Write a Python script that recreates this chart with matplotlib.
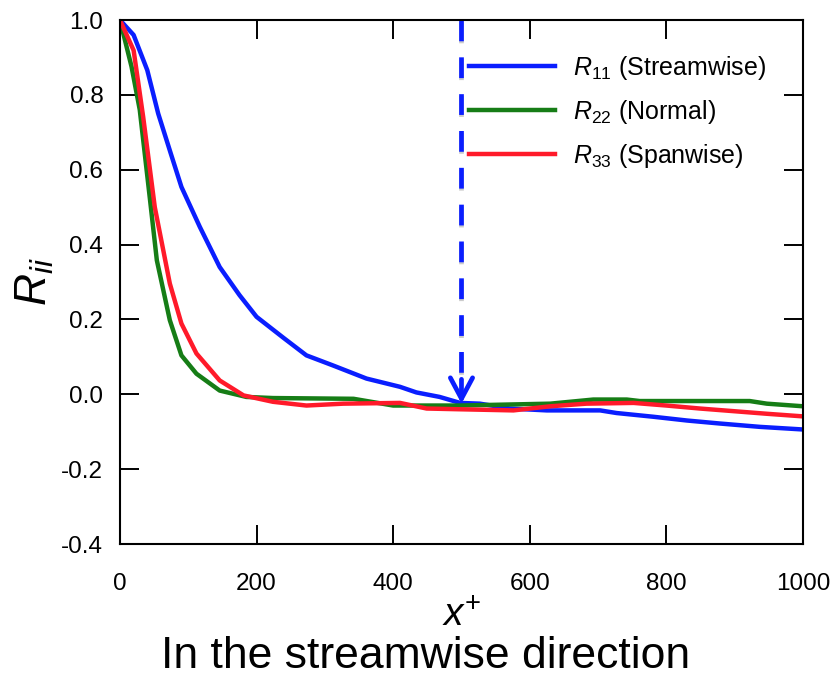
import matplotlib
matplotlib.use("Agg")
import matplotlib.pyplot as plt
import matplotlib.patheffects as pe

plt.rcParams['font.family'] = ['Liberation Sans', 'DejaVu Sans']
plt.rcParams['mathtext.fontset'] = 'custom'
plt.rcParams['mathtext.rm'] = 'Liberation Sans'
plt.rcParams['mathtext.it'] = 'Liberation Sans:italic'

# ---- data ----
x_r11 = [0, 20, 40, 56, 75, 90, 117, 146, 175, 200, 240, 273, 312, 361, 410, 434, 468,
         498, 527, 571, 625, 703, 727, 781, 830, 878, 937, 1000]
y_r11 = [1.0, 0.96, 0.866, 0.75, 0.64, 0.554, 0.447, 0.34, 0.265, 0.207, 0.15, 0.104,
         0.077, 0.042, 0.02, 0.005, -0.007, -0.023, -0.025, -0.038, -0.043, -0.043,
         -0.05, -0.06, -0.07, -0.078, -0.087, -0.094]

x_r22 = [0, 17, 29, 44, 54, 73, 90, 112, 146, 185, 224, 342, 400, 498, 630, 693, 742,
         761, 922, 947, 1000]
y_r22 = [1.0, 0.875, 0.76, 0.52, 0.358, 0.198, 0.104, 0.055, 0.01, -0.007, -0.01,
         -0.012, -0.03, -0.03, -0.025, -0.014, -0.014, -0.018, -0.018, -0.025, -0.032]

x_r33 = [0, 20, 34, 51, 73, 90, 112, 146, 181, 224, 273, 327, 410, 449, 498, 576, 630,
         683, 752, 800, 849, 898, 947, 1000]
y_r33 = [1.0, 0.919, 0.741, 0.50, 0.296, 0.189, 0.109, 0.037, -0.003, -0.02, -0.03,
         -0.025, -0.023, -0.038, -0.04, -0.043, -0.032, -0.025, -0.023, -0.03, -0.038,
         -0.045, -0.052, -0.059]

labels = [r'$R_{\mathrm{11}}$ (Streamwise)', r'$R_{\mathrm{22}}$ (Normal)',
          r'$R_{\mathrm{33}}$ (Spanwise)']
colors = ['#0a1eff', '#167d16', '#ff1a2a']

marker_x = 500
marker_y_top = 1.0
marker_y_tip = -0.025

xticks = [0, 200, 400, 600, 800, 1000]
yticks = [-0.4, -0.2, 0.0, 0.2, 0.4, 0.6, 0.8, 1.0]

fig = plt.figure(figsize=(8.33, 6.78), dpi=100)
ax = fig.add_axes([0.144, 0.1976, 0.820, 0.7729])

for xs, ys, c, lab in zip([x_r11, x_r22, x_r33], [y_r11, y_r22, y_r33], colors, labels):
    ax.plot(xs, ys, color=c, lw=3.2, label=lab, solid_joinstyle='round')

# dashed vertical marker with arrow head
ax.plot([marker_x, marker_x], [marker_y_top, marker_y_tip + 0.06], color='#0a1eff',
        lw=3.4, dashes=(4.4, 3.4), solid_capstyle='butt',
        path_effects=[pe.SimpleLineShadow(offset=(0, -1.5), shadow_color='#999999', alpha=0.5),
                      pe.Normal()])
ax.annotate('', xy=(marker_x, marker_y_tip), xytext=(marker_x, marker_y_tip + 0.065),
            arrowprops=dict(arrowstyle='->,head_length=1.5,head_width=0.8',
                            color='#0a1eff', lw=3.4, shrinkA=0, shrinkB=0))

ax.set_xlim(0, 1000)
ax.set_ylim(-0.4, 1.0)
ax.set_xticks(xticks)
ax.set_yticks(yticks)
ax.set_yticklabels([f'{v:.1f}' for v in yticks])
ax.set_xticklabels([str(v) for v in xticks])

for s in ax.spines.values():
    s.set_linewidth(1.5)
ax.tick_params(axis='both', which='major', direction='in', length=13.5, width=1.4,
               top=True, right=True, labelsize=17.5)
ax.tick_params(axis='x', pad=21)
ax.tick_params(axis='y', pad=12)

ax.set_ylabel(r'$R_{ii}$', fontsize=32, labelpad=4)
ax.set_xlabel(r'$x^{+}$', fontsize=28, va='baseline')
ax.xaxis.set_label_coords(0.5, -0.1565)

leg = ax.legend(loc='upper left', bbox_to_anchor=(0.511, 0.935), frameon=False,
                fontsize=18, handlelength=3.44, handletextpad=0.72, labelspacing=0.64,
                borderaxespad=0, borderpad=0)

fig.text(0.511, 0.0148, 'In the streamwise direction', ha='center', va='baseline',
         fontsize=32)

fig.savefig('out.png', dpi=100)
